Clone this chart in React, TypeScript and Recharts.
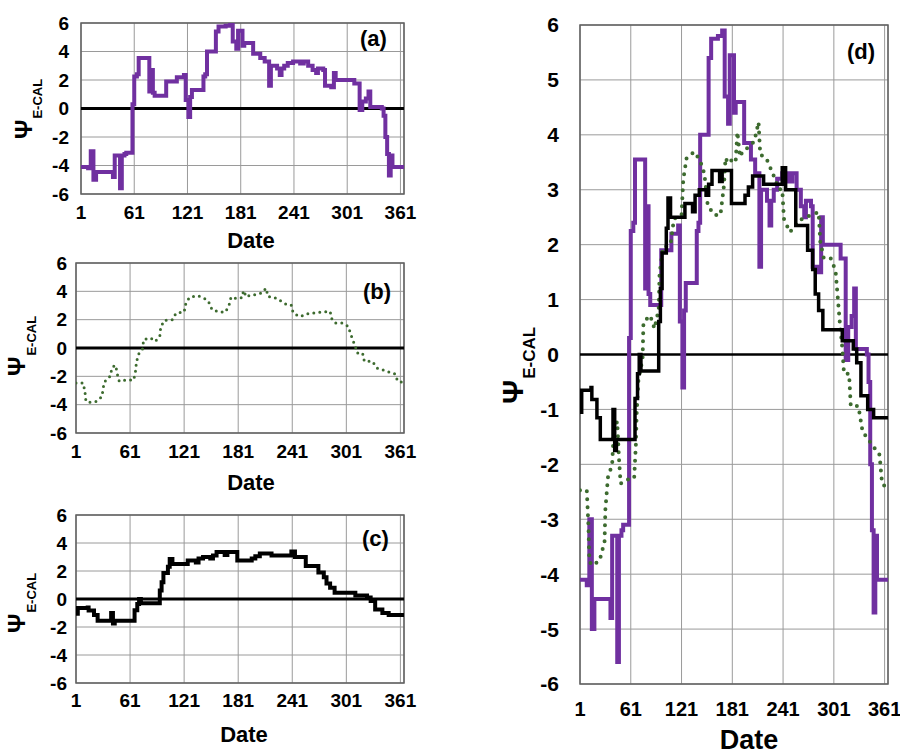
import React from 'react';
import {
  LineChart, Line, XAxis, YAxis, CartesianGrid, ReferenceLine, ReferenceArea
} from 'recharts';

const FONT = '"Liberation Sans", Arial, Helvetica, sans-serif';
const PURPLE = '#7030a0';
const GREEN = '#3d6b2f';

const dateTicks = [1, 61, 121, 181, 241, 301, 361];
const smallTicks = [-6, -4, -2, 0, 2, 4, 6];
const bigTicks = [-6, -5, -4, -3, -2, -1, 0, 1, 2, 3, 4, 5, 6];

// (a) purple series - step levels, day where each level starts
const purpleDays = [
  1, 9, 12, 15, 18, 37, 39, 45, 47, 50, 52, 59, 61, 64, 66, 78, 80, 82, 84, 97,
  109, 117, 119, 122, 124, 126, 139, 141, 143, 153, 156, 164, 169, 172, 176, 178, 183, 185, 195, 203,
  208, 213, 215, 222, 225, 227, 230, 234, 240, 248, 252, 257, 262, 266, 268, 274, 276, 283, 286, 288,
  309, 315, 318, 322, 325, 327, 340, 342, 344, 346, 348, 350, 352, 365,
];
const purpleVals = [
  -4.1, -4.2, -3.0, -5.0, -4.45, -4.8, -3.3, -5.6, -3.3, -3.2, -3.1, 0.3, 2.25, 2.4, 3.55, 1.2, 2.7, 1.1, 0.9, 1.9,
  2.2, 2.35, 0.6, -0.6, 0.8, 1.3, 2.25, 2.4, 4.0, 5.4, 5.75, 5.8, 5.9, 4.7, 4.2, 5.45, 4.4, 4.6, 3.85, 3.55,
  3.3, 1.6, 3.0, 2.8, 2.35, 2.8, 3.0, 3.2, 3.3, 3.15, 3.3, 3.0, 2.7, 2.5, 2.8, 2.7, 1.6, 1.5, 2.5, 2.0,
  1.75, -0.1, 0.5, 0.7, 1.2, 0.1, 0.0, -0.5, -2.0, -3.2, -4.7, -3.3, -4.1, -4.1,
];

// (b) green dotted series
const greenDays = [
  1, 9, 11, 12, 15, 24, 30, 31, 34, 39, 41, 45, 47, 49, 55, 65, 67, 68, 70, 73,
  75, 76, 84, 89, 94, 95, 99, 108, 112, 121, 123, 127, 136, 143, 148, 152, 160, 167, 171, 173,
  176, 183, 185, 187, 190, 194, 199, 207, 212, 214, 221, 229, 236, 240, 242, 249, 256, 258, 264, 274,
  283, 285, 289, 297, 303, 308, 311, 313, 319, 321, 330, 335, 341, 348, 353, 355, 358, 365,
];
const greenVals = [
  -2.47, -2.47, -3.13, -3.76, -3.84, -3.76, -3.41, -2.82, -2.24, -2.0, -1.37, -1.22, -1.88, -2.35, -2.28, -2.26, -1.65, -1.06, -0.47, -0.24,
  -0.05, 0.59, 0.71, 0.47, 0.82, 1.46, 1.95, 2.0, 2.47, 2.54, 3.18, 3.58, 3.69, 3.53, 3.29, 2.71, 2.54, 2.54, 3.06, 3.58,
  3.48, 3.58, 3.53, 4.05, 3.6, 3.72, 3.76, 3.88, 4.23, 3.64, 3.58, 3.29, 3.01, 3.01, 2.47, 2.23, 2.35, 2.42, 2.47, 2.54,
  2.59, 2.05, 1.76, 1.76, 1.53, 0.59, 0.12, -0.35, -0.35, -0.94, -0.94, -1.41, -1.53, -1.69, -1.76, -1.83, -2.35, -2.45,
];

// (c) black series - step levels
const blackDays = [
  1, 3, 14, 15, 21, 25, 40, 42, 44, 66, 69, 71, 73, 94, 96, 98, 103, 105, 108, 125,
  134, 137, 142, 150, 153, 157, 166, 169, 180, 196, 200, 205, 218, 240, 244, 256, 270, 276, 279, 283,
  288, 311, 324, 328, 333, 341, 348, 365,
];
const blackVals = [
  -1.05, -0.65, -0.6, -0.82, -1.15, -1.55, -1.0, -1.75, -1.55, -0.8, -0.35, 0.0, -0.3, 0.6, 1.2, 1.85, 2.3, 2.85, 2.5, 2.75,
  2.6, 2.9, 3.0, 2.9, 3.1, 3.35, 3.15, 3.35, 2.75, 2.9, 3.05, 3.25, 3.1, 3.4, 3.0, 2.35, 1.9, 1.55, 1.1, 0.8,
  0.45, 0.25, 0.1, -0.15, -0.75, -1.0, -1.15, -1.15,
];

const toRows = (days: number[], vals: number[]) => days.map((d, i) => ({ day: d, v: vals[i] }));
const purpleData = toRows(purpleDays, purpleVals);
const greenData = toRows(greenDays, greenVals);
const blackData = toRows(blackDays, blackVals);

interface FrameOpts {
  tickX: number;
  tickY: number;
  xMargin: number;
  yMargin: number;
  yW: number;
  xH: number;
  yTicks: number[];
  zeroW: number;
}

// grid, axes, border and zero line shared by all four panels
const frame = (o: FrameOpts) => {
  const tx = { fontSize: o.tickX, fontWeight: 700, fill: '#000', fontFamily: FONT };
  const ty = { fontSize: o.tickY, fontWeight: 700, fill: '#000', fontFamily: FONT };
  return [
    <CartesianGrid key="g" stroke="#9a9a9a" strokeWidth={1} />,
    <XAxis
      key="x" dataKey="day" type="number" domain={[1, 365]} ticks={dateTicks} interval={0}
      allowDataOverflow tick={tx} tickLine={false} axisLine={false} tickSize={0}
      tickMargin={o.xMargin} height={o.xH}
    />,
    <YAxis
      key="y" type="number" domain={[-6, 6]} ticks={o.yTicks} interval={0}
      allowDataOverflow tick={ty} tickLine={false} axisLine={false} tickSize={0}
      tickMargin={o.yMargin} width={o.yW}
    />,
    <ReferenceArea key="b" x1={1} x2={365} y1={-6} y2={6} fill="none" fillOpacity={0} stroke="#606060" strokeWidth={1.5} />,
    <ReferenceLine key="z" y={0} stroke="#000" strokeWidth={o.zeroW} />,
  ];
};

const purpleLine = (w: number) => (
  <Line key="p" data={purpleData} dataKey="v" type="stepAfter" stroke={PURPLE} strokeWidth={w}
    dot={false} activeDot={false} isAnimationActive={false} />
);
const greenLine = (w: number) => (
  <Line key="gr" data={greenData} dataKey="v" type="linear" stroke={GREEN} strokeWidth={w}
    strokeDasharray={`0 ${w * 2}`} strokeLinecap="round"
    dot={false} activeDot={false} isAnimationActive={false} />
);
const blackLine = (w: number) => (
  <Line key="k" data={blackData} dataKey="v" type="stepAfter" stroke="#000" strokeWidth={w}
    dot={false} activeDot={false} isAnimationActive={false} />
);

const abs = (left: number, top: number): React.CSSProperties => ({ position: 'absolute', left, top });

// rotated Psi_E-CAL axis title
const PsiTitle = ({ x, y, big, small, dy }: { x: number; y: number; big: number; small: number; dy: number }) => (
  <text transform={`translate(${x},${y}) rotate(-90)`} fontFamily={FONT} fontWeight={700} fill="#000">
    <tspan fontSize={big}>Ψ</tspan>
    <tspan fontSize={small} dy={dy} dx={1}>E-CAL</tspan>
  </text>
);

const App: React.FC = () => {
  const small = { tickX: 19, tickY: 19, yTicks: smallTicks, zeroW: 3 };
  return (
    <div style={{ position: 'absolute', left: 0, top: 0, width: 900, height: 755, background: '#fff', fontFamily: FONT }}>
      <div style={abs(0, 0)}>
        <LineChart width={420} height={250} margin={{ top: 23, right: 16, bottom: 0, left: 0 }}>
          {frame({ ...small, xMargin: 12, yMargin: 12, yW: 81, xH: 56 })}
          {purpleLine(4)}
        </LineChart>
      </div>
      <div style={abs(0, 250)}>
        <LineChart width={420} height={250} margin={{ top: 13, right: 16, bottom: 0, left: 0 }}>
          {frame({ ...small, xMargin: 12, yMargin: 9, yW: 76, xH: 67 })}
          {greenLine(3)}
        </LineChart>
      </div>
      <div style={abs(0, 500)}>
        <LineChart width={420} height={255} margin={{ top: 15, right: 16, bottom: 0, left: 0 }}>
          {frame({ ...small, xMargin: 11, yMargin: 9, yW: 76, xH: 72 })}
          {blackLine(4)}
        </LineChart>
      </div>
      <div style={abs(490, 0)}>
        <LineChart width={410} height={755} margin={{ top: 25, right: 12, bottom: 0, left: 0 }}>
          {frame({ tickX: 20, tickY: 21, yTicks: bigTicks, zeroW: 2.5, xMargin: 18, yMargin: 21, yW: 90, xH: 71 })}
          {purpleLine(4)}
          {greenLine(4)}
          {blackLine(3.5)}
        </LineChart>
      </div>
      <svg width={900} height={755} style={{ position: 'absolute', left: 0, top: 0, pointerEvents: 'none' }}>
        <g fontFamily={FONT} fontWeight={700} fill="#000">
          <text x={360} y={46} fontSize={22}>(a)</text>
          <text x={363} y={299} fontSize={22}>(b)</text>
          <text x={362} y={546} fontSize={22}>(c)</text>
          <text x={847} y={59} fontSize={22}>(d)</text>
          <text x={251} y={248} fontSize={22} textAnchor="middle">Date</text>
          <text x={251} y={490} fontSize={22} textAnchor="middle">Date</text>
          <text x={244} y={742} fontSize={22} textAnchor="middle">Date</text>
          <text x={749} y={749} fontSize={27} textAnchor="middle">Date</text>
        </g>
        <PsiTitle x={32} y={139} big={24} small={13} dy={10} />
        <PsiTitle x={25} y={376} big={24} small={13} dy={11} />
        <PsiTitle x={25} y={633} big={24} small={13} dy={11} />
        <PsiTitle x={523} y={404} big={30} small={17} dy={12} />
      </svg>
    </div>
  );
};

export default App;
